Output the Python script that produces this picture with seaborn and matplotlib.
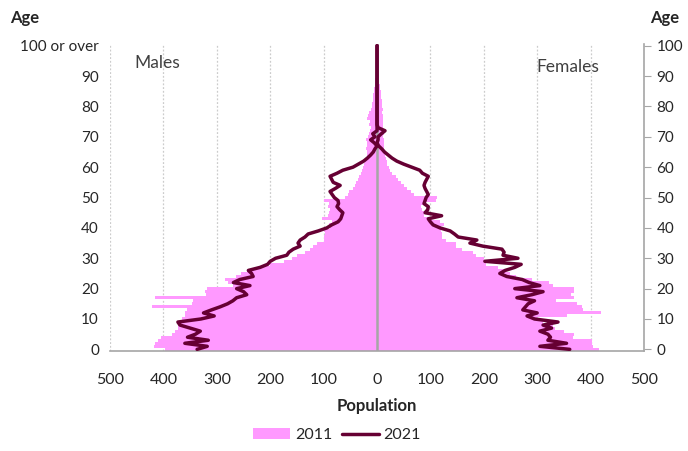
import numpy as np
import pandas as pd
import matplotlib
matplotlib.use("Agg")
import matplotlib.pyplot as plt
import seaborn as sns
from matplotlib.patches import Patch
from matplotlib.lines import Line2D

sns.set_style("white")
plt.rcParams['font.family'] = ['Lato', 'DejaVu Sans']

# single year of age, 0 .. 100 (100 = "100 or over")
ages = list(range(0, 101))

male_2011 = [398, 418, 416, 410, 405, 384, 378, 373, 373, 370,
             365, 360, 360, 355, 421, 347, 345, 415, 320, 322,
             318, 270, 280, 285, 265, 255, 243, 220, 200, 175,
             160, 150, 135, 125, 120, 112, 100, 100, 98, 100,
             88, 90, 85, 103, 92, 90, 88, 92, 90, 100,
             60, 55, 52, 45, 42, 40, 36, 33, 30, 28,
             26, 24, 22, 20, 19, 18, 20, 18, 19, 20,
             17, 15, 14, 12, 15, 14, 18, 16, 15, 12,
             10, 9, 8, 8, 7, 6, 5, 4, 3, 3,
             2, 2, 1, 1, 1, 1, 0, 0, 0, 0, 0]

female_2011 = [416, 405, 402, 402, 368, 369, 350, 333, 330, 310,
               300, 355, 420, 386, 384, 375, 335, 369, 364, 369,
               369, 330, 322, 290, 260, 250, 240, 227, 205, 200,
               200, 185, 180, 160, 148, 148, 130, 122, 122, 120,
               120, 125, 118, 100, 88, 88, 85, 82, 88, 110,
               112, 70, 64, 56, 51, 45, 40, 35, 28, 25,
               22, 19, 18, 16, 15, 14, 14, 13, 14, 13,
               12, 13, 12, 11, 12, 11, 12, 11, 10, 11,
               10, 9, 9, 8, 8, 7, 6, 5, 4, 4,
               3, 2, 2, 1, 1, 1, 0, 0, 0, 0, 0]

male_2021 = [337, 318, 360, 316, 355, 340, 331, 350, 369, 373,
             330, 305, 325, 310, 294, 280, 270, 263, 244, 250,
             263, 238, 269, 257, 232, 235, 241, 219, 205, 200,
             190, 169, 165, 157, 144, 148, 144, 135, 129, 110,
             94, 85, 73, 68, 66, 64, 70, 75, 72, 73,
             80, 84, 88, 78, 69, 82, 85, 88, 75, 64,
             45, 35, 25, 18, 12, 7, 4, 0, 5, 12,
             4, 8, 0, 0, 0, 0, 0, 0, 0, 0,
             0, 0, 0, 0, 0, 0, 0, 0, 0, 0,
             0, 0, 0, 0, 0, 0, 0, 0, 0, 0, 0]

female_2021 = [361, 305, 355, 320, 325, 320, 305, 327, 311, 339,
               295, 281, 300, 273, 278, 283, 295, 262, 290, 311,
               258, 305, 285, 272, 243, 230, 240, 258, 270, 202,
               264, 236, 238, 234, 198, 174, 187, 152, 145, 137,
               118, 105, 100, 96, 121, 90, 95, 96, 88, 90,
               92, 96, 93, 90, 88, 90, 93, 96, 85, 80,
               65, 50, 37, 28, 21, 14, 9, 3, 0, 2,
               2, 8, 15, 2, 0, 0, 0, 0, 0, 0,
               0, 0, 0, 0, 0, 0, 0, 0, 0, 0,
               0, 0, 0, 0, 0, 0, 0, 0, 0, 0, 0]

age_ticks = [0, 10, 20, 30, 40, 50, 60, 70, 80, 90, 100]
left_labels = ['0', '10', '20', '30', '40', '50', '60', '70', '80', '90', '100 or over']
pop_ticks = [-500, -400, -300, -200, -100, 0, 100, 200, 300, 400, 500]

pink = '#FF99FF'
maroon = '#660033'
grey = '#A6A6A6'

df = pd.DataFrame({'age': ages,
                   'male_2011': -np.array(male_2011),
                   'female_2011': female_2011,
                   'male_2021': -np.array(male_2021),
                   'female_2021': female_2021})

fig = plt.figure(figsize=(6.88, 4.51), dpi=100)
ax = fig.add_axes([0.160, 0.222, 0.776, 0.680])

# 2011 bars
for col in ['male_2011', 'female_2011']:
    sns.barplot(data=df, x=col, y='age', orient='h', native_scale=True,
                width=1.0, color=pink, saturation=1, linewidth=0,
                errorbar=None, ax=ax)

ax.axvline(0, color=grey, lw=1.8, zorder=3)

# 2021 lines
for col in ['male_2021', 'female_2021']:
    sns.lineplot(data=df, x=col, y='age', orient='y', sort=False,
                 estimator=None, color=maroon, lw=2.5, ax=ax, zorder=4)

ax.set_xlim(-500, 500)
ax.set_ylim(-0.5, 100.5)

ax.set_xticks(pop_ticks)
ax.set_xticklabels([str(abs(v)) for v in pop_ticks], fontsize=11.5)
ax.set_yticks(age_ticks)
ax.set_yticklabels(left_labels, fontsize=11)
ax.tick_params(axis='y', length=0, pad=8)
ax.tick_params(axis='x', length=5, width=1, color=grey, direction='out', pad=11)
ax.set_xlabel('Population', fontsize=12, fontweight='bold', labelpad=8)
ax.set_ylabel('')

ax.grid(axis='x', color='#CCCCCC', linestyle=(0, (1.5, 1.5)), lw=0.9)
ax.set_axisbelow(True)
for s in ['top', 'left', 'right']:
    ax.spines[s].set_visible(False)
ax.spines['bottom'].set_color(grey)
ax.spines['bottom'].set_linewidth(1.2)

ax2 = ax.twinx()
ax2.set_ylim(-0.5, 100.5)
ax2.set_yticks(age_ticks)
ax2.set_yticklabels([str(a) for a in age_ticks], fontsize=11)
ax2.tick_params(axis='y', length=5, color=grey, pad=4)
for s in ['top', 'left', 'bottom']:
    ax2.spines[s].set_visible(False)
ax2.spines['right'].set_color(grey)
ax2.spines['right'].set_linewidth(1.2)

ax.text(0.088, 0.938, 'Males', transform=ax.transAxes, fontsize=12.5,
        color='#404040', ha='center', va='center')
ax.text(0.858, 0.925, 'Females', transform=ax.transAxes, fontsize=12.5,
        color='#404040', ha='center', va='center')

fig.text(0.015, 0.96, 'Age', fontsize=12, fontweight='bold', ha='left', va='center')
fig.text(0.945, 0.96, 'Age', fontsize=12, fontweight='bold', ha='left', va='center')

handles = [Patch(facecolor=pink, edgecolor='none'),
           Line2D([0], [0], color=maroon, lw=2.5)]
fig.legend(handles, ['2011', '2021'], loc='center', bbox_to_anchor=(0.49, 0.035),
           ncol=2, frameon=False, fontsize=11.5, handlelength=2.3,
           handletextpad=0.3, columnspacing=0.6)

fig.savefig('out.png', dpi=100)
